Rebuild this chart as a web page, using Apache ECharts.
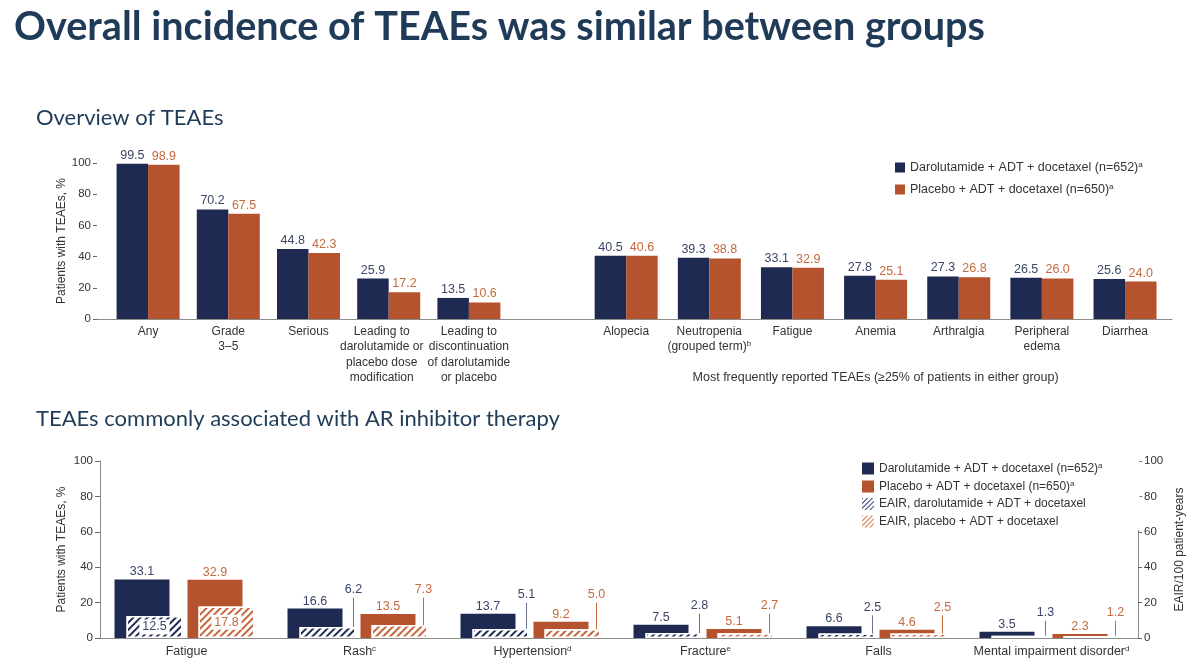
<!DOCTYPE html>
<html>
<head>
<meta charset="utf-8">
<script src="https://cdn.jsdelivr.net/npm/echarts@6/dist/echarts.min.js"></script>
<style>
  html, body { margin: 0; padding: 0; background: #fff; }
  #main { width: 1200px; height: 667px; }
</style>
</head>
<body>
<div id="main"></div>
<script>
// top chart: overview of TEAEs (two category groups)
const topCatsA = ['Any', 'Grade\n3–5', 'Serious', 'Leading to\ndarolutamide or\nplacebo dose\nmodification', 'Leading to\ndiscontinuation\nof darolutamide\nor placebo'];
const topDaroA = [99.5, 70.2, 44.8, 25.9, 13.5];
const topPlacA = [98.9, 67.5, 42.3, 17.2, 10.6];

const topCatsB = ['Alopecia', 'Neutropenia\n(grouped term)', 'Fatigue', 'Anemia', 'Arthralgia', 'Peripheral\nedema', 'Diarrhea'];
const topNotesB = ['', 'b', '', '', '', '', ''];
const topDaroB = [40.5, 39.3, 33.1, 27.8, 27.3, 26.5, 25.6];
const topPlacB = [40.6, 38.8, 32.9, 25.1, 26.8, 26.0, 24.0];

// bottom chart: TEAEs associated with AR inhibitor therapy
const botCats = ['Fatigue', 'Rash', 'Hypertension', 'Fracture', 'Falls', 'Mental impairment disorder'];
const botNotes = ['', 'c', 'd', 'e', '', 'd'];
const pctDaro = [33.1, 16.6, 13.7, 7.5, 6.6, 3.5];
const pctPlac = [32.9, 13.5, 9.2, 5.1, 4.6, 2.3];
const eairDaro = [12.5, 6.2, 5.1, 2.8, 2.5, 1.3];
const eairPlac = [17.8, 7.3, 5.0, 2.7, 2.5, 1.2];

const nameDaro = 'Darolutamide + ADT + docetaxel (n=652)';
const namePlac = 'Placebo + ADT + docetaxel (n=650)';
const nameEairDaro = 'EAIR, darolutamide + ADT + docetaxel';
const nameEairPlac = 'EAIR, placebo + ADT + docetaxel';

const NAVY = '#1f2a52';
const ORANGE = '#b5532f';
const NAVY_TXT = '#3b4568';
const ORANGE_TXT = '#c5693f';
const FONT = "'Liberation Sans', Arial, sans-serif";
const HEAD = "Lato, 'Open Sans', sans-serif";

const supRich = {
    sup: { fontSize: 8, verticalAlign: 'top', padding: [0, 0, 5, 0], fontFamily: FONT, color: '#333' },
    // the long "dose modification" label sits a little left of its bars in the source
    sh: { fontSize: 12, fontFamily: FONT, color: '#333', lineHeight: 15.3, padding: [0, 14, 0, 0] }
};

function withSup(text, note) {
    return note ? text + '{sup|' + note + '}' : text;
}

function fmt(p) {
    return p.value.toFixed(1);
}

function hatch(color) {
    return {
        symbol: 'rect',
        symbolSize: 1,
        color: color,
        dashArrayX: [1, 0],
        dashArrayY: [2, 3],
        rotation: -Math.PI / 4
    };
}

// "///" legend icon: diagonal bands clipped to a 12x12 square
function stripeIcon() {
    const S = 12, w = 1.6;
    let path = '';
    for (let a = 0; a < 2 * S; a = a + 4.8) {
        const b = a + w;
        let pts = [];
        [a, b].forEach(function (c) {
            if (c === 0) { pts.push([0, 0]); }
            else if (c <= S) { pts.push([0, c], [c, 0]); }
            else { pts.push([c - S, S], [S, c - S]); }
        });
        [[S, 0], [0, S], [S, S]].forEach(function (p) {
            if (p[0] + p[1] > a && p[0] + p[1] < b) pts.push(p);
        });
        const cx = pts.reduce(function (s, p) { return s + p[0]; }, 0) / pts.length;
        const cy = pts.reduce(function (s, p) { return s + p[1]; }, 0) / pts.length;
        pts.sort(function (p, q) { return Math.atan2(p[1] - cy, p[0] - cx) - Math.atan2(q[1] - cy, q[0] - cx); });
        path += 'M' + pts.map(function (p) { return p[0].toFixed(2) + ' ' + p[1].toFixed(2); }).join(' L') + ' Z ';
    }
    return 'path://' + path.trim();
}

// leader line + label for EAIR bars too short to hold their own label
function leaderSeries(name, values, side, color) {
    let data = [];
    for (let i = 0; i < values.length; i = i + 1) {
        if (values[i] < 10) {
            data.push([i, values[i], Math.max(pctDaro[i], pctPlac[i])]);
        }
    }
    return {
        name: name,
        type: 'custom',
        xAxisIndex: 5,
        yAxisIndex: 6,
        encode: { x: 0, y: 1 },
        silent: true,
        legendHoverLink: false,
        data: data,
        z: 5,
        renderItem: function (params, api) {
            const base = api.coord([api.value(0), api.value(1)]);
            const top = api.coord([api.value(0), api.value(2)]);
            const x = base[0] + (side < 0 ? -10 : 60);
            const ly = top[1] - 19;
            return {
                type: 'group',
                children: [
                    { type: 'line', shape: { x1: x, y1: base[1], x2: x, y2: ly + 8 }, style: { stroke: side < 0 ? '#6a7290' : ORANGE_TXT, lineWidth: 1 } },
                    { type: 'text', x: x, y: ly, style: { text: api.value(1).toFixed(1), fill: color, font: '12.5px ' + FONT, align: 'center', verticalAlign: 'middle' } }
                ]
            };
        }
    };
}

let myChart = echarts.init(document.getElementById('main'));
const icon = stripeIcon();

let option = {
    backgroundColor: '#fff',
    textStyle: { fontFamily: FONT },
    title: [
        { text: 'Overall incidence of TEAEs was similar between groups', left: 9, top: 2, textStyle: { fontFamily: HEAD, fontWeight: 'bold', fontSize: 39.6, color: '#1f3b57' } },
        { text: 'Overview of TEAEs', left: 31, top: 102, textStyle: { fontFamily: HEAD, fontWeight: 'normal', fontSize: 22, color: '#1f3b57' } },
        { text: 'TEAEs commonly associated with AR inhibitor therapy', left: 31, top: 403, textStyle: { fontFamily: HEAD, fontWeight: 'normal', fontSize: 22, color: '#1f3b57' } }
    ],
    // hides the upper part of the right axis line behind the legend, as in the source
    graphic: [
        { type: 'rect', z: 100, shape: { x: 1135, y: 452, width: 4.5, height: 78 }, style: { fill: '#fff' }, silent: true }
    ],
    legend: [
        {
            data: [nameDaro, namePlac],
            orient: 'vertical', left: 890, top: 156,
            itemWidth: 10, itemHeight: 10, itemGap: 9,
            icon: 'rect',
            selectedMode: false,
            formatter: function (n) { return withSup(n, 'a'); },
            textStyle: { fontSize: 12.5, color: '#333', fontFamily: FONT, rich: supRich }
        },
        {
            data: [
                nameDaro,
                namePlac,
                { name: nameEairDaro, icon: icon, itemStyle: { color: '#4f5888', borderWidth: 0, decal: 'none' } },
                { name: nameEairPlac, icon: icon, itemStyle: { color: '#dc8760', borderWidth: 0, decal: 'none' } }
            ],
            orient: 'vertical', left: 857, top: 457,
            itemWidth: 12, itemHeight: 12, itemGap: 5.5,
            icon: 'rect',
            selectedMode: false,
            formatter: function (n) { return n.indexOf('(n=') > -1 ? withSup(n, 'a') : n; },
            textStyle: { fontSize: 12, color: '#333', fontFamily: FONT, rich: supRich }
        }
    ],
    grid: [
        { left: 97, right: 28, top: 163, height: 156 },
        { left: 108, width: 401, top: 163, height: 156 },
        { left: 584.6, width: 582, top: 163, height: 156 },
        { left: 100, right: 62, top: 461, height: 177 },
        { left: 92, width: 1038, top: 461, height: 177 },
        { left: 104, width: 1038, top: 461, height: 177 }
    ],
    xAxis: [
        { gridIndex: 0, type: 'value', min: 0, max: 1, axisLine: { show: true, onZero: false, lineStyle: { color: '#8c8c8c' } }, axisTick: { show: false }, axisLabel: { show: false }, splitLine: { show: false } },
        { gridIndex: 1, type: 'category', data: topCatsA, axisLine: { show: false }, axisTick: { show: false },
          axisLabel: { interval: 0, margin: 5, fontSize: 12, fontFamily: FONT, lineHeight: 15.3, color: '#333', rich: supRich,
                       formatter: function (v, i) {
                           if (i !== 3) return v;
                           return v.split('\n').map(function (s) { return '{sh|' + s + '}'; }).join('\n');
                       } } },
        { gridIndex: 2, type: 'category', data: topCatsB, axisLine: { show: false }, axisTick: { show: false },
          axisLabel: { interval: 0, margin: 5, fontSize: 12, fontFamily: FONT, lineHeight: 15.3, color: '#333',
                       formatter: function (v, i) { return withSup(v, topNotesB[i]); }, rich: supRich },
          name: 'Most frequently reported TEAEs (≥25% of patients in either group)', nameLocation: 'middle', nameGap: 52,
          nameTextStyle: { fontSize: 12.5, color: '#333' } },
        { gridIndex: 3, type: 'category', data: botCats, axisLine: { lineStyle: { color: '#8c8c8c' } }, axisTick: { show: false },
          axisLabel: { interval: 0, margin: 7, fontSize: 12.5, fontFamily: FONT, color: '#333',
                       formatter: function (v, i) { return withSup(v, botNotes[i]); }, rich: supRich } },
        { gridIndex: 4, type: 'category', data: botCats, show: false },
        { gridIndex: 5, type: 'category', data: botCats, show: false }
    ],
    yAxis: [
        { gridIndex: 0, type: 'value', min: 0, max: 100, interval: 20, axisLine: { show: false },
          axisTick: { show: true, length: 4, lineStyle: { color: '#666' } }, splitLine: { show: false },
          axisLabel: { margin: 6, fontSize: 11.5, color: '#333' },
          name: 'Patients with TEAEs, %', nameLocation: 'middle', nameRotate: 90, nameGap: 29, nameMoveOverlap: false,
          nameTextStyle: { fontSize: 12, color: '#333' } },
        { gridIndex: 1, type: 'value', min: 0, max: 100, show: false },
        { gridIndex: 2, type: 'value', min: 0, max: 100, show: false },
        { gridIndex: 3, type: 'value', min: 0, max: 100, interval: 20, position: 'left',
          axisLine: { show: true, lineStyle: { color: '#8c8c8c' } },
          axisTick: { show: true, length: 5, lineStyle: { color: '#666' } }, splitLine: { show: false },
          axisLabel: { margin: 7, fontSize: 11.5, color: '#333' },
          name: 'Patients with TEAEs, %', nameLocation: 'middle', nameRotate: 90, nameGap: 32, nameMoveOverlap: false,
          nameTextStyle: { fontSize: 12, color: '#333' } },
        { gridIndex: 3, type: 'value', min: 0, max: 100, interval: 20, position: 'right',
          axisLine: { show: true, lineStyle: { color: '#8c8c8c' } },
          axisTick: { show: true, length: 4, lineStyle: { color: '#666' } }, splitLine: { show: false },
          axisLabel: { margin: 6, fontSize: 11.5, color: '#333' },
          name: 'EAIR/100 patient-years', nameLocation: 'middle', nameRotate: 90, nameGap: 36, nameMoveOverlap: false,
          nameTextStyle: { fontSize: 12, color: '#333' } },
        { gridIndex: 4, type: 'value', min: 0, max: 100, show: false },
        { gridIndex: 5, type: 'value', min: 0, max: 100, show: false }
    ],
    series: [
        { name: nameDaro, type: 'bar', xAxisIndex: 1, yAxisIndex: 1, data: topDaroA, barWidth: 31.5, barGap: '0%',
          itemStyle: { color: NAVY }, label: { show: true, position: 'top', distance: 2, color: NAVY_TXT, fontSize: 12.5, formatter: fmt } },
        { name: namePlac, type: 'bar', xAxisIndex: 1, yAxisIndex: 1, data: topPlacA, barWidth: 31.5, barGap: '0%',
          itemStyle: { color: ORANGE }, label: { show: true, position: 'top', distance: 2, color: ORANGE_TXT, fontSize: 12.5, formatter: fmt } },
        { name: nameDaro, type: 'bar', xAxisIndex: 2, yAxisIndex: 2, data: topDaroB, barWidth: 31.5, barGap: '0%',
          itemStyle: { color: NAVY }, label: { show: true, position: 'top', distance: 2, color: NAVY_TXT, fontSize: 12.5, formatter: fmt } },
        { name: namePlac, type: 'bar', xAxisIndex: 2, yAxisIndex: 2, data: topPlacB, barWidth: 31.5, barGap: '0%',
          itemStyle: { color: ORANGE }, label: { show: true, position: 'top', distance: 2, color: ORANGE_TXT, fontSize: 12.5, formatter: fmt } },

        { name: nameDaro, type: 'bar', xAxisIndex: 4, yAxisIndex: 5, data: pctDaro, barWidth: 55, barGap: '32.7%',
          itemStyle: { color: NAVY }, label: { show: true, position: 'top', distance: 1, color: NAVY_TXT, fontSize: 12.5, formatter: fmt } },
        { name: namePlac, type: 'bar', xAxisIndex: 4, yAxisIndex: 5, data: pctPlac, barWidth: 55, barGap: '32.7%',
          itemStyle: { color: ORANGE }, label: { show: true, position: 'top', distance: 1, color: ORANGE_TXT, fontSize: 12.5, formatter: fmt } },
        { name: nameEairDaro, type: 'bar', xAxisIndex: 5, yAxisIndex: 6, barWidth: 56, barGap: '28.6%', z: 3,
          data: eairDaro.map(function (v) { return { value: v, label: { show: v >= 10 } }; }),
          itemStyle: { color: '#fff', borderColor: '#fff', borderWidth: 1.5, decal: hatch(NAVY) },
          label: { position: 'inside', color: NAVY_TXT, fontSize: 12.5, backgroundColor: '#fff', padding: [1, 3], formatter: fmt } },
        { name: nameEairPlac, type: 'bar', xAxisIndex: 5, yAxisIndex: 6, barWidth: 56, barGap: '28.6%', z: 3,
          data: eairPlac.map(function (v) { return { value: v, label: { show: v >= 10 } }; }),
          itemStyle: { color: '#fff', borderColor: '#fff', borderWidth: 1.5, decal: hatch('#c8653c') },
          label: { position: 'inside', color: ORANGE_TXT, fontSize: 12.5, backgroundColor: '#fff', padding: [1, 3], formatter: fmt } },
        leaderSeries('leaderDaro', eairDaro, -1, NAVY_TXT),
        leaderSeries('leaderPlac', eairPlac, 1, ORANGE_TXT)
    ]
};

myChart.setOption(option);
</script>
</body>
</html>
